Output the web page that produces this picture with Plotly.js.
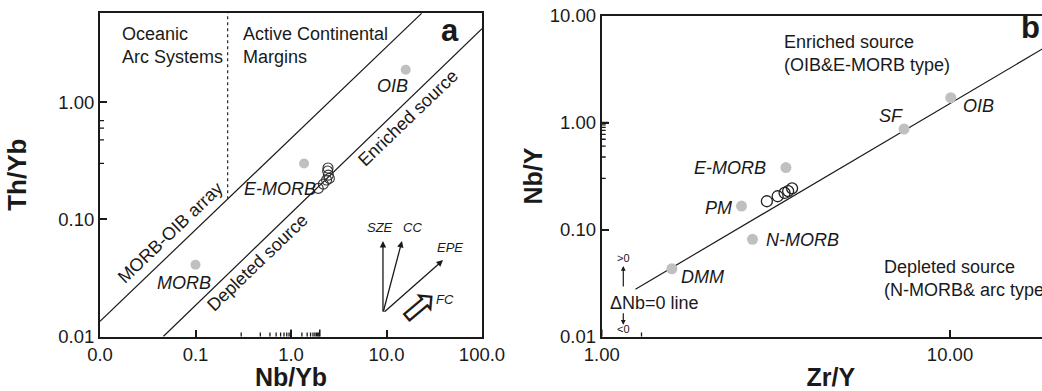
<!DOCTYPE html>
<html><head><meta charset="utf-8">
<script src="https://cdn.plot.ly/plotly-3.0.1.min.js"></script>
<style>html,body{margin:0;padding:0;overflow:hidden;background:#fff}#chart{width:1060px;height:391px}</style>
</head><body><div id="chart"></div><script>
// ---------- Panel a: Th/Yb vs Nb/Yb ----------
const refNamesA = ['MORB', 'E-MORB', 'OIB'];
const refNbYbA = [0.1, 1.37, 15.9];
const refThYbA = [0.041, 0.30, 1.9];
const sampleNbYbA = [1.93, 2.18, 2.36, 2.46, 2.52, 2.42, 2.44];
const sampleThYbA = [0.184, 0.20, 0.217, 0.239, 0.224, 0.259, 0.275];
const arrayUpperX = [0.01, 23.3];
const arrayUpperY = [0.0135, 5.75];
const arrayLowerX = [0.046, 100];
const arrayLowerY = [0.01, 4.26];
const dividerX = [0.217, 0.217];
const dividerY = [0.149, 5.79];

// ---------- Panel b: Nb/Y vs Zr/Y ----------
const refNamesB = ['DMM', 'N-MORB', 'PM', 'E-MORB', 'SF', 'OIB'];
const refZrYB = [1.59, 2.71, 2.52, 3.38, 7.38, 10.05];
const refNbYB = [0.043, 0.081, 0.166, 0.38, 0.87, 1.71];
const sampleZrYB = [2.98, 3.20, 3.35, 3.43, 3.52];
const sampleNbYB = [0.184, 0.205, 0.22, 0.229, 0.243];
const dNbLineX = [1.25, 20];
const dNbLineY = [0.0277, 5.73];

const INK = '#1a1a1a';
const GREY = '#c0c0c0';
const FONT = 'Liberation Sans, Arial, sans-serif';

const traces = [
  {x: arrayUpperX, y: arrayUpperY, xaxis: 'x', yaxis: 'y', mode: 'lines', line: {color: INK, width: 1.2}, hoverinfo: 'skip'},
  {x: arrayLowerX, y: arrayLowerY, xaxis: 'x', yaxis: 'y', mode: 'lines', line: {color: INK, width: 1.2}, hoverinfo: 'skip'},
  {x: dividerX, y: dividerY, xaxis: 'x', yaxis: 'y', mode: 'lines', line: {color: '#333', width: 1.3, dash: 'dot'}, hoverinfo: 'skip'},
  {x: refNbYbA, y: refThYbA, text: refNamesA, xaxis: 'x', yaxis: 'y', mode: 'markers', marker: {color: GREY, size: 10}},
  {x: sampleNbYbA, y: sampleThYbA, xaxis: 'x', yaxis: 'y', mode: 'markers', marker: {color: 'rgba(0,0,0,0)', size: 10, line: {color: '#333', width: 1.1}}},
  {x: dNbLineX, y: dNbLineY, xaxis: 'x2', yaxis: 'y2', mode: 'lines', line: {color: INK, width: 1.2}, hoverinfo: 'skip'},
  {x: refZrYB, y: refNbYB, text: refNamesB, xaxis: 'x2', yaxis: 'y2', mode: 'markers', marker: {color: GREY, size: 11}},
  {x: sampleZrYB, y: sampleNbYB, xaxis: 'x2', yaxis: 'y2', mode: 'markers', marker: {color: 'rgba(0,0,0,0)', size: 11, line: {color: '#222', width: 1.3}}}
];

function axisBase(extra) {
  return Object.assign({
    type: 'log', showgrid: false, zeroline: false, showline: true, mirror: true,
    linecolor: INK, linewidth: 2, ticks: 'inside', ticklen: 7, tickwidth: 2, tickcolor: INK,
    layer: 'above traces',
    tickfont: {family: FONT, size: 18.5, color: INK}, automargin: false
  }, extra);
}

const W = 1060, H = 391;
const TF = {family: FONT, size: 25, color: INK};
const PA = {dx: [100 / W, 482 / W], dy: [54.5 / H, 378 / H], xr: [-2, 2], yr: [-2, 0.763]};
const PB = {dx: [601.7 / W, 1], dy: [54.5 / H, 375.3 / H], xr: [0, 1.3158], yr: [-2, 1]};
const layout = {
  width: W, height: H, showlegend: false,
  margin: {l: 0, r: 0, t: 0, b: 0},
  xaxis: axisBase({domain: PA.dx, range: PA.xr, dtick: 1, tickformat: '.1f',
    title: {text: '<b>Nb/Yb</b>', font: TF, standoff: 0}}),
  yaxis: axisBase({domain: PA.dy, range: PA.yr, dtick: 1, tickformat: '.2f',
    title: {text: '<b>Th/Yb</b>', font: {family: FONT, size: 26, color: INK}, standoff: 24}}),
  xaxis2: axisBase({domain: PB.dx, range: PB.xr, anchor: 'y2', dtick: 1, tickformat: '.2f',
    title: {text: '<b>Zr/Y</b>', font: TF, standoff: 12}}),
  yaxis2: axisBase({domain: PB.dy, range: PB.yr, anchor: 'x2', dtick: 1, tickformat: '.2f',
    title: {text: '<b>Nb/Y</b>', font: TF, standoff: 0}}),
  annotations: [],
  shapes: []
};

// inside tick marks (decades long, 2..9 short), placed through the axes
function addTicks(axLetter, other, range, pxSpan) {
  for (let e = Math.floor(range[0]); e <= Math.ceil(range[1]); e++) {
    for (let m = 1; m <= 9; m++) {
      const lv = e + Math.log10(m);
      if (lv < range[0] - 1e-9 || lv > range[1] + 1e-9) continue;
      const len = (m === 1 ? 7 : 4) / pxSpan;
      const s = {type: 'line', layer: 'above', line: {color: INK, width: m === 1 ? 1.6 : 1.3}};
      if (axLetter[0] === 'x') {
        Object.assign(s, {xref: axLetter, yref: other + ' domain', x0: lv, x1: lv, y0: 0, y1: len});
      } else {
        Object.assign(s, {yref: axLetter, xref: other + ' domain', y0: lv, y1: lv, x0: 0, x1: len});
      }
      layout.shapes.push(s);
    }
  }
}
addTicks('x', 'y', PA.xr, (PA.dy[1] - PA.dy[0]) * H);
addTicks('y', 'x', PA.yr, (PA.dx[1] - PA.dx[0]) * W);
addTicks('x2', 'y2', PB.xr, (PB.dy[1] - PB.dy[0]) * H);
addTicks('y2', 'x2', PB.yr, (PB.dx[1] - PB.dx[0]) * W);

function txt(xr, yr, x, y, text, o) {
  o = o || {};
  layout.annotations.push({
    xref: xr, yref: yr, x: x, y: y, text: text, showarrow: false,
    xanchor: o.xa || 'center', yanchor: o.ya || 'middle', align: o.align || 'left',
    textangle: o.angle || 0,
    font: {family: FONT, size: o.size || 18, color: o.color || INK}
  });
}
function arr(xr, yr, x, y, ax, ay, o) {
  o = o || {};
  layout.annotations.push({
    xref: xr, yref: yr, x: x, y: y, ax: ax, ay: ay, text: '', showarrow: true,
    arrowhead: o.head || 2, arrowsize: o.size || 1, arrowwidth: o.width || 1.3, arrowcolor: INK, standoff: 0, startstandoff: 0
  });
}

// Panel a text
txt('x', 'y', -1.791, 0.686, 'Oceanic<br>Arc Systems', {xa: 'left', ya: 'top'});
txt('x', 'y', -0.524, 0.686, 'Active Continental<br>Margins', {xa: 'left', ya: 'top'});
txt('x', 'y', 1.665, 0.617, '<b>a</b>', {size: 31});
txt('x', 'y', 1.058, 0.139, '<i>OIB</i>');
txt('x', 'y', -0.115, -0.740, '<i>E-MORB</i>');
txt('x', 'y', -1.120, -1.543, '<i>MORB</i>');
txt('x', 'y', -1.267, -1.116, 'MORB-OIB array', {angle: -43.7});
txt('x', 'y', -0.356, -1.372, 'Depleted source', {angle: -43.7});
txt('x', 'y', 1.225, -0.134, 'Enriched source', {angle: -43.7});
txt('x', 'y', 0.932, -1.073, '<i>SZE</i>', {size: 13});
txt('x', 'y', 1.277, -1.073, '<i>CC</i>', {size: 13});
txt('x', 'y', 1.665, -1.244, '<i>EPE</i>', {size: 13});
txt('x', 'y', 1.61, -1.688, '<i>FC</i>', {size: 13});
txt('x', 'y', 1.335, -1.735, '\u21E8', {size: 46, angle: -40});
arr('x', 'y', 0.963, -1.184, 0, 72);
arr('x', 'y', 1.162, -1.184, -19, 72);
arr('x', 'y', 1.592, -1.347, -60, 53);

// Panel b text
txt('x2', 'y2', 0.5185, 0.863, 'Enriched source<br>(OIB&amp;E-MORB type)', {xa: 'left', ya: 'top'});
txt('x2', 'y2', 1.230, 0.891, '<b>b</b>', {size: 31});
txt('x2', 'y2', 1.081, 0.152, '<i>OIB</i>');
txt('x2', 'y2', 0.830, 0.059, '<i>SF</i>');
txt('x2', 'y2', 0.4775, -0.421, '<i>E-MORB</i>', {xa: 'right'});
txt('x2', 'y2', 0.3348, -0.802, '<i>PM</i>');
txt('x2', 'y2', 0.466, -1.098, '<i>N-MORB</i>', {xa: 'left'});
txt('x2', 'y2', 0.290, -1.444, '<i>DMM</i>');
txt('x2', 'y2', 0.8035, -1.241, 'Depleted source<br>(N-MORB&amp; arc type)', {xa: 'left', ya: 'top'});
txt('x2', 'y2', 0.019, -1.684, '\u0394Nb=0 line', {xa: 'left'});
txt('x2', 'y2', 0.062, -1.269, '&gt;0', {size: 11});
txt('x2', 'y2', 0.062, -1.934, '&lt;0', {size: 11});
arr('x2', 'y2', 0.062, -1.341, 0, 22, {width: 1.2, size: 0.8});
arr('x2', 'y2', 0.062, -1.89, 0, -13, {width: 1.2, size: 0.8});

Plotly.newPlot('chart', traces, layout, {staticPlot: true, displayModeBar: false});
</script></body></html>
